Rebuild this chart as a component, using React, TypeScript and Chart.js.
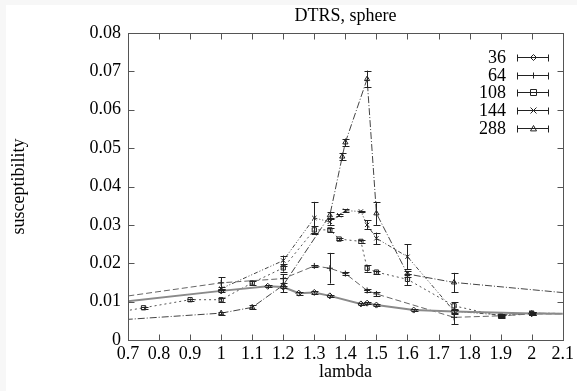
import React, { useEffect, useRef } from 'react';
import { Chart, registerables } from 'chart.js';

Chart.register(...registerables);

// ---- tick definitions ----
const xTickValues = [0.7, 0.8, 0.9, 1.0, 1.1, 1.2, 1.3, 1.4, 1.5, 1.6, 1.7, 1.8, 1.9, 2.0, 2.1];
const xTickLabels = ['0.7', '0.8', '0.9', '1', '1.1', '1.2', '1.3', '1.4', '1.5', '1.6', '1.7', '1.8', '1.9', '2', '2.1'];
const yTickValues = [0, 0.01, 0.02, 0.03, 0.04, 0.05, 0.06, 0.07, 0.08];
const yTickLabels = ['0', '0.01', '0.02', '0.03', '0.04', '0.05', '0.06', '0.07', '0.08'];

const titleText = 'DTRS, sphere';
const xTitle = 'lambda';
const yTitle = 'susceptibility';

// ---- series ----
const seriesNames = ['36', '64', '108', '144', '288'];

const lambda36 = [0.5, 1.0, 1.15, 1.2, 1.25, 1.3, 1.35, 1.45, 1.47, 1.5, 1.62, 1.75, 2.0, 2.2];
const chi36 = [0.0083, 0.0128, 0.0140, 0.0138, 0.0122, 0.0124, 0.0115, 0.0094, 0.0096, 0.0091, 0.0078, 0.0074, 0.0069, 0.0068];
const err36 = [0, 0.0004, 0.0003, 0.0003, 0.0004, 0.0003, 0.0003, 0.0003, 0.0003, 0.0003, 0.0002, 0.0003, 0.0003, 0];

const lambda64 = [0.5, 1.0, 1.2, 1.3, 1.35, 1.4, 1.47, 1.5, 1.75, 1.9, 2.0, 2.2];
const chi64 = [0.0092, 0.0149, 0.0160, 0.0193, 0.0187, 0.0173, 0.0129, 0.0120, 0.0059, 0.0063, 0.0068, 0.0068];
const err64 = [0, 0.0015, 0.0012, 0.0003, 0.0040, 0.0004, 0.0004, 0.0006, 0.0018, 0.0003, 0.0003, 0];

const lambda108 = [0.5, 0.75, 0.9, 1.0, 1.1, 1.2, 1.3, 1.35, 1.38, 1.45, 1.47, 1.5, 1.6, 1.75, 1.9, 2.0, 2.2];
const chi108 = [0.0049, 0.0084, 0.0105, 0.0105, 0.0149, 0.0188, 0.0287, 0.0287, 0.0263, 0.0257, 0.0187, 0.0177, 0.0158, 0.0089, 0.0062, 0.0070, 0.0068];
const err108 = [0, 0.0003, 0.0003, 0.0005, 0.0005, 0.0010, 0.0009, 0.0005, 0.0003, 0.0003, 0.0009, 0.0004, 0.0015, 0.0010, 0.0004, 0.0004, 0];

const lambda144 = [1.0, 1.2, 1.3, 1.35, 1.38, 1.4, 1.45, 1.47, 1.5, 1.6, 1.75, 1.9, 2.0, 2.2];
const chi144 = [0.0134, 0.0207, 0.0318, 0.0308, 0.0325, 0.0337, 0.0335, 0.0300, 0.0265, 0.0217, 0.0075, 0.0065, 0.0070, 0.0068];
const err144 = [0.0004, 0.0013, 0.0042, 0.0008, 0.0003, 0.0004, 0.0002, 0.0012, 0.0015, 0.0033, 0.0006, 0.0003, 0.0003, 0];

const lambda288 = [0.5, 1.0, 1.1, 1.2, 1.35, 1.39, 1.4, 1.47, 1.5, 1.6, 1.75, 2.2];
const chi288 = [0.0043, 0.0070, 0.0085, 0.0143, 0.0325, 0.0478, 0.0515, 0.0680, 0.0330, 0.0172, 0.0150, 0.0116];
const err288 = [0, 0.0004, 0.0005, 0.0018, 0.0008, 0.0010, 0.0010, 0.0022, 0.0030, 0.0008, 0.0025, 0];

const seriesX = [lambda36, lambda64, lambda108, lambda144, lambda288];
const seriesY = [chi36, chi64, chi108, chi144, chi288];
const seriesErr = [err36, err64, err108, err144, err288];

// ---- styles ----
const lineColors = ['#8a8a8a', '#666666', '#555555', '#444444', '#444444'];
const lineWidths = [2, 1, 1, 1, 1];
const lineDashes: number[][] = [[], [6, 3], [2, 3], [4, 2, 1, 2, 1, 2], [7, 2, 1, 2]];
const markerKinds = ['diamond', 'plus', 'square', 'cross', 'triangle'];
const chartPointStyles = ['rectRot', 'cross', 'rect', 'crossRot', 'triangle'];

const FONT = '"Liberation Serif", "DejaVu Serif", serif';

function drawMarker(ctx: CanvasRenderingContext2D, kind: string, x: number, y: number, r: number) {
  ctx.beginPath();
  if (kind === 'diamond') {
    ctx.moveTo(x, y - r); ctx.lineTo(x + r, y); ctx.lineTo(x, y + r); ctx.lineTo(x - r, y); ctx.closePath();
  } else if (kind === 'plus') {
    ctx.moveTo(x - r, y); ctx.lineTo(x + r, y); ctx.moveTo(x, y - r); ctx.lineTo(x, y + r);
  } else if (kind === 'square') {
    ctx.rect(x - r, y - r, 2 * r, 2 * r);
  } else if (kind === 'cross') {
    ctx.moveTo(x - r, y - r); ctx.lineTo(x + r, y + r); ctx.moveTo(x + r, y - r); ctx.lineTo(x - r, y + r);
  } else {
    ctx.moveTo(x, y - r); ctx.lineTo(x + r, y + r * 0.8); ctx.lineTo(x - r, y + r * 0.8); ctx.closePath();
  }
  ctx.stroke();
}

const decorPlugin = {
  id: 'gnuplotDecor',
  beforeDraw(chart: any) {
    const ctx = chart.ctx as CanvasRenderingContext2D;
    ctx.save();
    ctx.fillStyle = '#f7f7f7';
    ctx.fillRect(0, 0, chart.width, chart.height);
    ctx.fillStyle = '#ffffff';
    ctx.fillRect(6, 5, chart.width - 6, chart.height - 5);
    ctx.restore();
  },
  afterDatasetsDraw(chart: any) {
    const ctx = chart.ctx as CanvasRenderingContext2D;
    const xs = chart.scales.x;
    const ys = chart.scales.y;
    const a = chart.chartArea;
    ctx.save();
    ctx.beginPath();
    ctx.rect(a.left, a.top, a.right - a.left, a.bottom - a.top);
    ctx.clip();
    ctx.lineWidth = 1;
    ctx.strokeStyle = '#222222';
    ctx.setLineDash([]);
    seriesX.forEach((xsArr, i) => {
      xsArr.forEach((lx, j) => {
        const e = seriesErr[i][j];
        if (!e) return;
        const px = Math.round(xs.getPixelForValue(lx)) + 0.5;
        const top = ys.getPixelForValue(seriesY[i][j] + e);
        const bot = ys.getPixelForValue(seriesY[i][j] - e);
        ctx.beginPath();
        ctx.moveTo(px, top); ctx.lineTo(px, bot);
        ctx.moveTo(px - 3, Math.round(top) + 0.5); ctx.lineTo(px + 4, Math.round(top) + 0.5);
        ctx.moveTo(px - 3, Math.round(bot) + 0.5); ctx.lineTo(px + 4, Math.round(bot) + 0.5);
        ctx.stroke();
      });
    });
    ctx.restore();
  },
  afterDraw(chart: any) {
    const ctx = chart.ctx as CanvasRenderingContext2D;
    const xs = chart.scales.x;
    const ys = chart.scales.y;
    const a = chart.chartArea;
    ctx.save();
    ctx.setLineDash([]);
    // frame
    ctx.strokeStyle = '#555555';
    ctx.lineWidth = 1;
    const L = Math.round(a.left) + 0.5, R = Math.round(a.right) + 0.5;
    const T = Math.round(a.top) + 0.5, B = Math.round(a.bottom) + 0.5;
    ctx.strokeRect(L, T, R - L, B - T);
    // inward ticks, mirrored
    const tl = 6;
    ctx.beginPath();
    xTickValues.forEach((v) => {
      const px = Math.round(xs.getPixelForValue(v)) + 0.5;
      ctx.moveTo(px, B); ctx.lineTo(px, B - tl);
      ctx.moveTo(px, T); ctx.lineTo(px, T + tl);
    });
    yTickValues.forEach((v) => {
      const py = Math.round(ys.getPixelForValue(v)) + 0.5;
      ctx.moveTo(L, py); ctx.lineTo(L + tl, py);
      ctx.moveTo(R, py); ctx.lineTo(R - tl, py);
    });
    ctx.stroke();

    // titles
    ctx.fillStyle = '#000000';
    ctx.font = `18px ${FONT}`;
    ctx.textAlign = 'center';
    ctx.textBaseline = 'alphabetic';
    ctx.fillText(titleText, (a.left + a.right) / 2, 21);
    ctx.fillText(xTitle, (a.left + a.right) / 2, 377);
    ctx.save();
    ctx.translate(24, (a.top + a.bottom) / 2);
    ctx.rotate(-Math.PI / 2);
    ctx.fillText(yTitle, 0, 0);
    ctx.restore();

    // legend (gnuplot style)
    const rowY = [57, 75, 92, 110, 128];
    ctx.textAlign = 'right';
    ctx.textBaseline = 'middle';
    seriesNames.forEach((name, i) => {
      const y = rowY[i];
      ctx.fillStyle = '#000000';
      ctx.fillText(name, 506, y + 1);
      ctx.strokeStyle = '#222222';
      ctx.lineWidth = 1;
      ctx.beginPath();
      const yy = Math.round(y) + 0.5;
      ctx.moveTo(517, yy); ctx.lineTo(549, yy);
      ctx.moveTo(517.5, yy - 3); ctx.lineTo(517.5, yy + 4);
      ctx.moveTo(548.5, yy - 3); ctx.lineTo(548.5, yy + 4);
      ctx.stroke();
      drawMarker(ctx, markerKinds[i], 533.5, yy, 3);
    });
    ctx.restore();
  },
};

export default function App() {
  const canvasRef = useRef<HTMLCanvasElement | null>(null);

  useEffect(() => {
    document.body.style.margin = '0';
    const canvas = canvasRef.current;
    if (!canvas) return;

    const datasets = seriesNames.map((name, i) => ({
      label: name,
      data: seriesX[i].map((x, j) => ({ x, y: seriesY[i][j] })),
      showLine: true,
      borderColor: lineColors[i],
      borderWidth: lineWidths[i],
      borderDash: lineDashes[i],
      pointStyle: chartPointStyles[i],
      pointRadius: 3,
      pointBorderColor: '#222222',
      pointBackgroundColor: 'rgba(255,255,255,0)',
      pointBorderWidth: 1,
      tension: 0,
    }));

    const chart = new Chart(canvas, {
      type: 'scatter',
      data: { datasets },
      options: {
        responsive: false,
        animation: false,
        layout: { padding: { top: 33, right: 12, left: 0, bottom: 0 } },
        plugins: {
          legend: { display: false },
          tooltip: { enabled: false },
          title: { display: false },
        },
        scales: {
          x: {
            type: 'linear',
            min: 0.7,
            max: 2.1,
            grid: { display: false, drawTicks: false },
            border: { display: false },
            afterBuildTicks: (scale: any) => {
              scale.ticks = xTickValues.map((v) => ({ value: v }));
            },
            afterFit: (scale: any) => {
              scale.height = 51;
            },
            ticks: {
              autoSkip: false,
              maxRotation: 0,
              padding: 3,
              color: '#000000',
              font: { family: FONT, size: 18 },
              callback: (v: any) => {
                const k = xTickValues.findIndex((t) => Math.abs(t - Number(v)) < 1e-6);
                return k >= 0 ? xTickLabels[k] : '';
              },
            },
          },
          y: {
            type: 'linear',
            min: 0,
            max: 0.08,
            grid: { display: false, drawTicks: false },
            border: { display: false },
            afterBuildTicks: (scale: any) => {
              scale.ticks = yTickValues.map((v) => ({ value: v }));
            },
            afterFit: (scale: any) => {
              scale.width = 128;
            },
            ticks: {
              autoSkip: false,
              padding: 7,
              color: '#000000',
              font: { family: FONT, size: 18 },
              callback: (v: any) => {
                const k = yTickValues.findIndex((t) => Math.abs(t - Number(v)) < 1e-9);
                return k >= 0 ? yTickLabels[k] : '';
              },
            },
          },
        },
      },
      plugins: [decorPlugin],
    });

    return () => {
      chart.destroy();
    };
  }, []);

  return (
    <div style={{ width: 577, height: 391, position: 'relative' }}>
      <canvas ref={canvasRef} width={577} height={391} style={{ width: 577, height: 391, display: 'block' }} />
    </div>
  );
}
